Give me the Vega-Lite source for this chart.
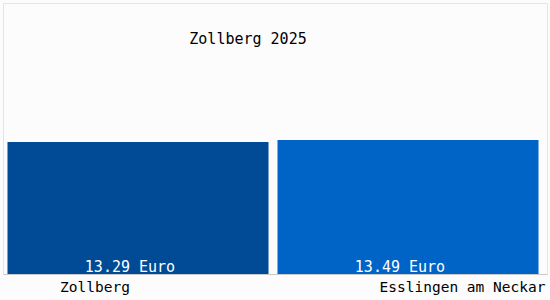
{
  "$schema": "https://vega.github.io/schema/vega-lite/v6.json",
  "width": 544,
  "height": 271,
  "autosize": "none",
  "padding": {"left": 3, "right": 3, "top": 3, "bottom": 26},
  "background": "#fcfcfd",
  "config": {
    "view": {"stroke": "#e4e4e4"},
    "font": "DejaVu Sans Mono"
  },
  "title": {
    "text": "Zollberg 2025",
    "font": "DejaVu Sans Mono",
    "fontSize": 15,
    "fontWeight": "normal",
    "color": "#000000",
    "anchor": "middle",
    "baseline": "alphabetic",
    "offset": 0,
    "dx": -27,
    "dy": 56
  },
  "data": {
    "values": [
      {"ort": "Zollberg", "preis": 13.29, "label": "13.29 Euro"},
      {"ort": "Esslingen am Neckar", "preis": 13.49, "label": "13.49 Euro"}
    ]
  },
  "encoding": {
    "x": {
      "field": "ort",
      "type": "nominal",
      "sort": null,
      "scale": {"paddingInner": 0.0333, "paddingOuter": 0.02407, "align": 0.346},
      "axis": {
        "title": null,
        "labelAngle": 0,
        "ticks": false,
        "domainColor": "#c8c8c8",
        "labelFont": "DejaVu Sans Mono",
        "labelFontSize": 14.5,
        "labelColor": "#000000",
        "labelPadding": 6,
        "labelOffset": {"condition": {"test": "datum.value == 'Zollberg'", "value": -43}, "value": 54.5}
      }
    }
  },
  "layer": [
    {
      "mark": {"type": "bar"},
      "encoding": {
        "y": {
          "field": "preis",
          "type": "quantitative",
          "scale": {"domain": [0, 27.3], "nice": false},
          "axis": null
        },
        "color": {
          "field": "ort",
          "type": "nominal",
          "sort": null,
          "scale": {"domain": ["Zollberg", "Esslingen am Neckar"], "range": ["#004a96", "#0063c6"]},
          "legend": null
        }
      }
    },
    {
      "mark": {"type": "text", "font": "DejaVu Sans Mono", "fontSize": 15, "color": "#ffffff", "baseline": "alphabetic", "dy": -2, "dx": -8},
      "encoding": {
        "y": {"datum": 0, "type": "quantitative", "scale": {"domain": [0, 27.3], "nice": false}},
        "text": {"field": "label"}
      }
    }
  ]
}
